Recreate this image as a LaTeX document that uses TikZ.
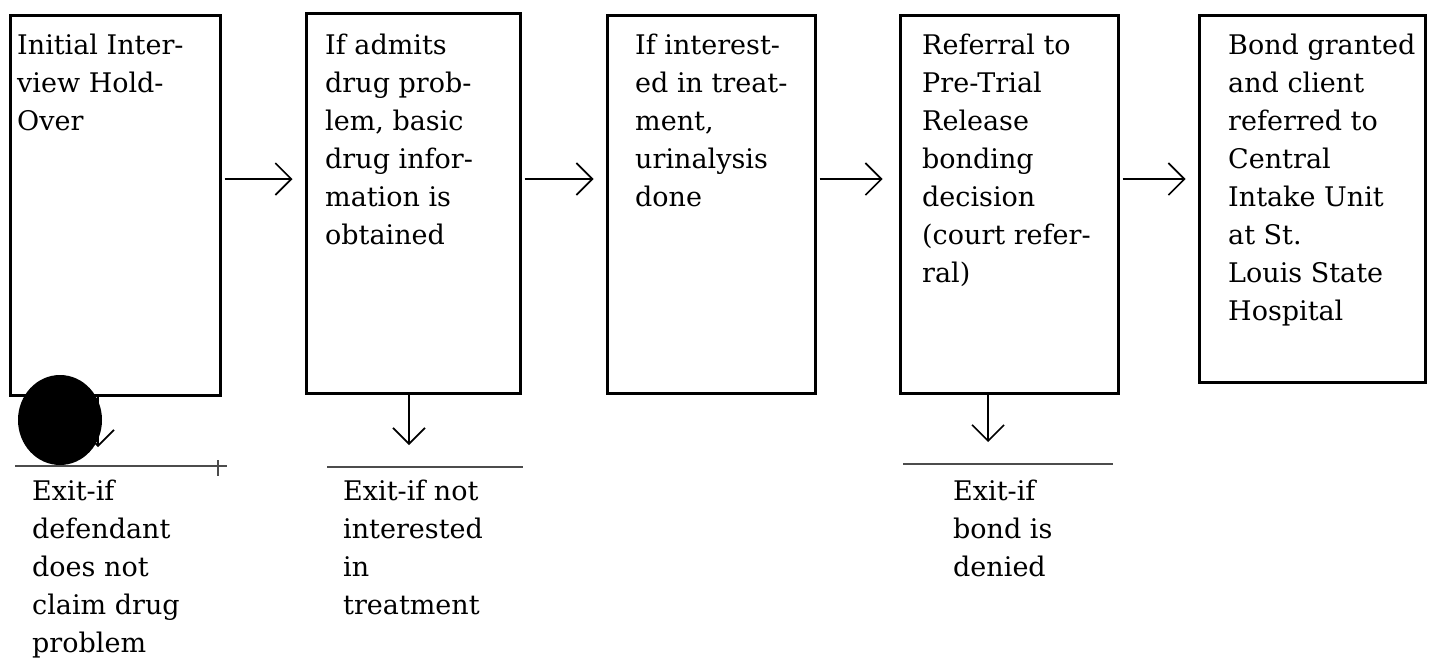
\documentclass[tikz,border=0pt]{standalone}
\usepackage{fontspec}
\setmainfont{DejaVu Serif}
\usetikzlibrary{arrows.meta, fit}

\begin{document}
\begin{tikzpicture}[x=1pt, y=-1pt, >={Straight Barb[length=16pt, width=32pt]},
    stage/.style={draw, line width=3pt, inner sep=0pt},
    boxtext/.style={anchor=north west, align=left, inner sep=0pt, font=\fontsize{27}{38}\selectfont},
    flow/.style={->, line width=1.6pt, shorten <=3pt, shorten >=12pt},
    exitrule/.style={line width=1.6pt, black!70}]

    \useasboundingbox (0,0) rectangle (1430,659);

    % Stages
    \node[stage, fit={(10,15) (220,395)}] (b1) {};
    \node[stage, fit={(306,13) (520,393)}] (b2) {};
    \node[stage, fit={(607,15) (815,393)}] (b3) {};
    \node[stage, fit={(900,15) (1118,393)}] (b4) {};
    \node[stage, fit={(1199,15) (1425,382)}] (b5) {};

    \node[boxtext] (t1) at (17,34) {Initial Inter-\\view Hold-\\Over};
    \node[boxtext] (t2) at (325,34) {If admits\\drug prob-\\lem, basic\\drug infor-\\mation is\\obtained};
    \node[boxtext] (t3) at (635,34) {If interest-\\ed in treat-\\ment,\\urinalysis\\done};
    \node[boxtext] (t4) at (922,34) {Referral to\\Pre-Trial\\Release\\bonding\\decision\\(court refer-\\ral)};
    \node[boxtext] (t5) at (1228,34) {Bond granted\\and client\\referred to\\Central\\Intake Unit\\at St.\\Louis State\\Hospital};

    % Flow between stages
    \coordinate (row) at (0,179);
    \draw[flow] (b1.east |- row) -- (b2.west |- row);
    \draw[flow] (b2.east |- row) -- (b3.west |- row);
    \draw[flow, shorten >=16pt] (b3.east |- row) -- (b4.west |- row);
    \draw[flow] (b4.east |- row) -- (b5.west |- row);

    % Exits
    \node[boxtext] (e1) at (32,480) {Exit-if\\defendant\\does not\\claim drug\\problem};
    \node[boxtext] (e2) at (343,480) {Exit-if not\\interested\\in\\treatment};
    \node[boxtext] (e4) at (953,480) {Exit-if\\bond is\\denied};

    \draw[flow, shorten <=0pt, shorten >=33pt] ([xshift=-17pt]b1.south) -- ([xshift=-17pt]b1.south |- e1.north);
    \draw[flow, shorten <=0pt, shorten >=35pt] ([xshift=-4pt]b2.south) -- ([xshift=-4pt]b2.south |- e2.north);
    \draw[flow, shorten <=0pt, shorten >=38pt] ([xshift=-21pt]b4.south) -- ([xshift=-21pt]b4.south |- e4.north);

    \draw[exitrule] (15,466) -- (227,466);
    \draw[exitrule] (218,460) -- (218,476);
    \draw[exitrule] (327,467) -- (523,467);
    \draw[exitrule] (903,464) -- (1113,464);

    % punched hole over the first exit
    \fill (60,420) ellipse [x radius=42pt, y radius=45pt];
\end{tikzpicture}
\end{document}
